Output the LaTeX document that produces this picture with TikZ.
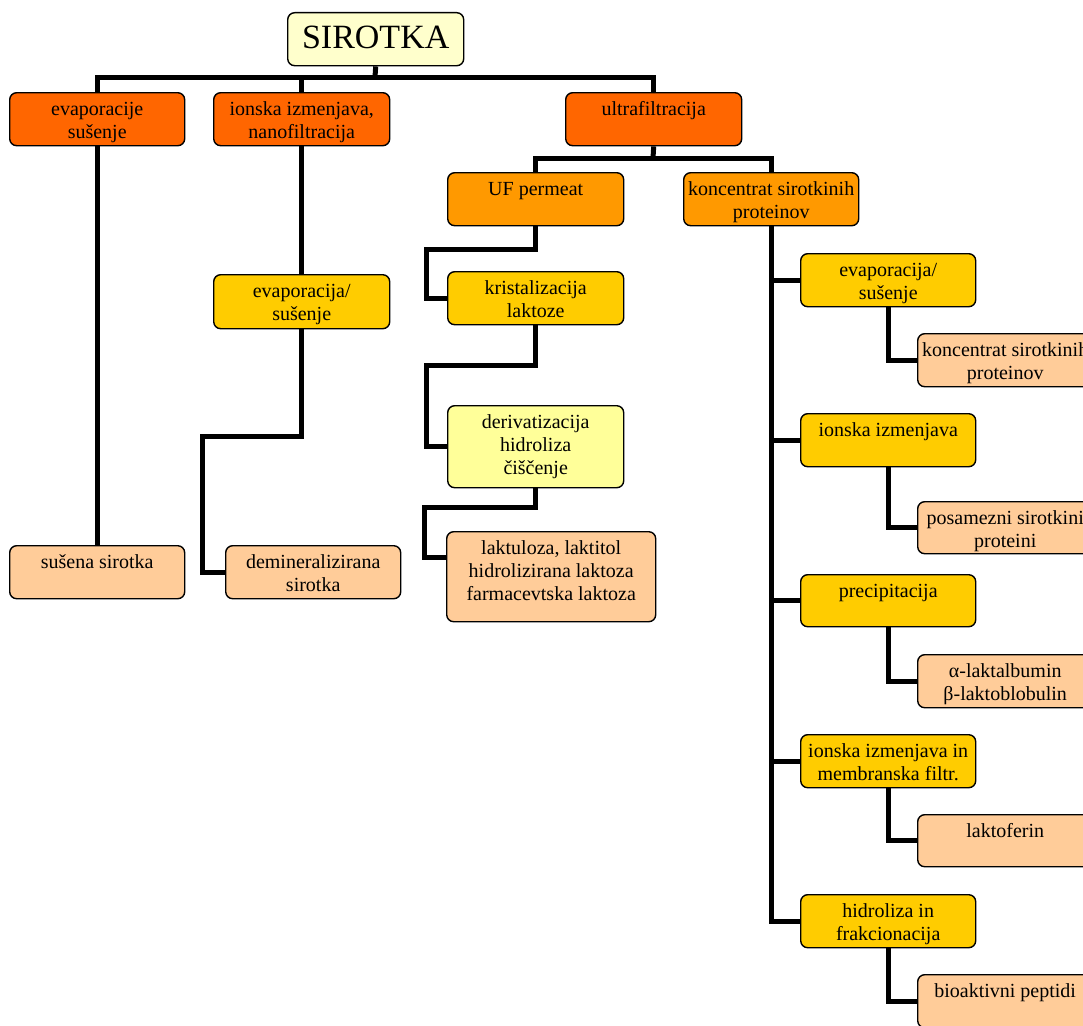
\documentclass[tikz,border=0pt]{standalone}
\usepackage{fontspec}
\setmainfont{Liberation Serif}
\definecolor{cA}{HTML}{FF6600}
\definecolor{cB}{HTML}{FF9900}
\definecolor{cC}{HTML}{FFCC00}
\definecolor{cD}{HTML}{FFFF99}
\definecolor{cE}{HTML}{FFCC99}
\definecolor{cF}{HTML}{FFFFCC}
\newcommand\bxtext[3]{\parbox[t][#2pt][t]{#1pt}{\centering\rule{0pt}{23pt}#3}}
\tikzset{
  box/.style={draw=black, line width=1.4pt, rounded corners=7pt, inner sep=0pt, anchor=north west,
    font=\fontsize{20}{23}\selectfont},
  conn/.style={line width=5pt, line join=miter, line cap=butt}
}
\begin{document}
\begin{tikzpicture}[x=1pt,y=-1pt]
\clip (0,0) rectangle (1083,1025);
\fill[white] (0,0) rectangle (1083,1025);
% top
\node[box, fill=cF, font=\fontsize{34}{38}\selectfont] (sir) at (287,12)
  {\parbox[t][53pt][t]{176pt}{\centering\rule{0pt}{36pt}SIROTKA}};
\node[box, fill=cA] (ev) at (9,92) {\bxtext{175}{53}{evaporacije\\sušenje}};
\node[box, fill=cA] (io) at (213,92) {\bxtext{176}{53}{ionska izmenjava,\\nanofiltracija}};
\node[box, fill=cA] (uf) at (565,92) {\bxtext{176}{53}{ultrafiltracija}};
% second level
\node[box, fill=cB] (perm) at (447,172) {\bxtext{176}{53}{UF permeat}};
\node[box, fill=cB] (kon) at (683,172) {\bxtext{175}{53}{koncentrat sirotkinih\\proteinov}};
% left columns
\node[box, fill=cE] (sus) at (9,545) {\bxtext{175}{53}{sušena sirotka}};
\node[box, fill=cC] (evm) at (213,274) {\bxtext{176}{54}{evaporacija/\\sušenje}};
\node[box, fill=cE] (dem) at (225,545) {\bxtext{175}{53}{demineralizirana\\sirotka}};
% middle column
\node[box, fill=cC] (kris) at (447,271) {\bxtext{176}{53}{kristalizacija\\laktoze}};
\node[box, fill=cD] (der) at (447,405) {\bxtext{176}{82}{derivatizacija\\hidroliza\\čiščenje}};
\node[box, fill=cE] (lak) at (446,531) {\bxtext{209}{90}{laktuloza, laktitol\\hidrolizirana laktoza\\farmacevtska laktoza}};
% right column
\node[box, fill=cC] (evr) at (800,253) {\bxtext{175}{53}{evaporacija/\\sušenje}};
\node[box, fill=cE] (kp) at (917,333) {\bxtext{175}{53}{koncentrat sirotkinih\\proteinov}};
\node[box, fill=cC] (ior) at (800,413) {\bxtext{175}{53}{ionska izmenjava}};
\node[box, fill=cE] (pos) at (917,501) {\bxtext{175}{52}{posamezni sirotkini\\proteini}};
\node[box, fill=cC] (pre) at (800,574) {\bxtext{175}{52}{precipitacija}};
\node[box, fill=cE] (alf) at (917,654) {\bxtext{175}{53}{α-laktalbumin\\β-laktoblobulin}};
\node[box, fill=cC] (iom) at (800,734) {\bxtext{175}{53}{ionska izmenjava in\\membranska filtr.}};
\node[box, fill=cE] (lf) at (917,814) {\bxtext{175}{52}{laktoferin}};
\node[box, fill=cC] (hid) at (800,894) {\bxtext{175}{53}{hidroliza in\\frakcionacija}};
\node[box, fill=cE] (bio) at (917,974) {\bxtext{175}{53}{bioaktivni peptidi}};
% helper coordinates
\coordinate (b1) at (375,77);
\coordinate (b2) at (653,158);
\coordinate (c1) at (426,249);
\coordinate (c2) at (426,365);
\coordinate (c3) at (424,507);
\coordinate (y557) at (0,557);
\coordinate (c4) at (202,436);
% connectors
\begin{scope}[on background layer/.style={}]
\draw[conn] (sir.south) -- (b1);
\draw[conn] (ev.north) |- (b1) -| (uf.north);
\draw[conn] (io.north) -- (io.north |- b1);
\draw[conn] (uf.south) -- (b2);
\draw[conn] (perm.north) |- (b2) -| (kon.north);
\draw[conn] (perm.south) |- (c1) |- (kris.west);
\draw[conn] (kris.south) |- (c2) |- (der.west);
\draw[conn] (der.south) |- (c3) |- (lak.west |- y557);
\draw[conn] (ev.south) -- (sus.north);
\draw[conn] (io.south) -- (evm.north);
\draw[conn] (evm.south) |- (c4) |- (dem.west);
\draw[conn] (kon.south) |- (hid.west);
\draw[conn] (evr.west) -- (evr.west -| kon.south);
\draw[conn] (ior.west) -- (ior.west -| kon.south);
\draw[conn] (pre.west) -- (pre.west -| kon.south);
\draw[conn] (iom.west) -- (iom.west -| kon.south);
\draw[conn] (evr.south) |- (kp.west);
\draw[conn] (ior.south) |- (pos.west);
\draw[conn] (pre.south) |- (alf.west);
\draw[conn] (iom.south) |- (lf.west);
\draw[conn] (hid.south) |- (bio.west);
\end{scope}
\end{tikzpicture}
\end{document}
